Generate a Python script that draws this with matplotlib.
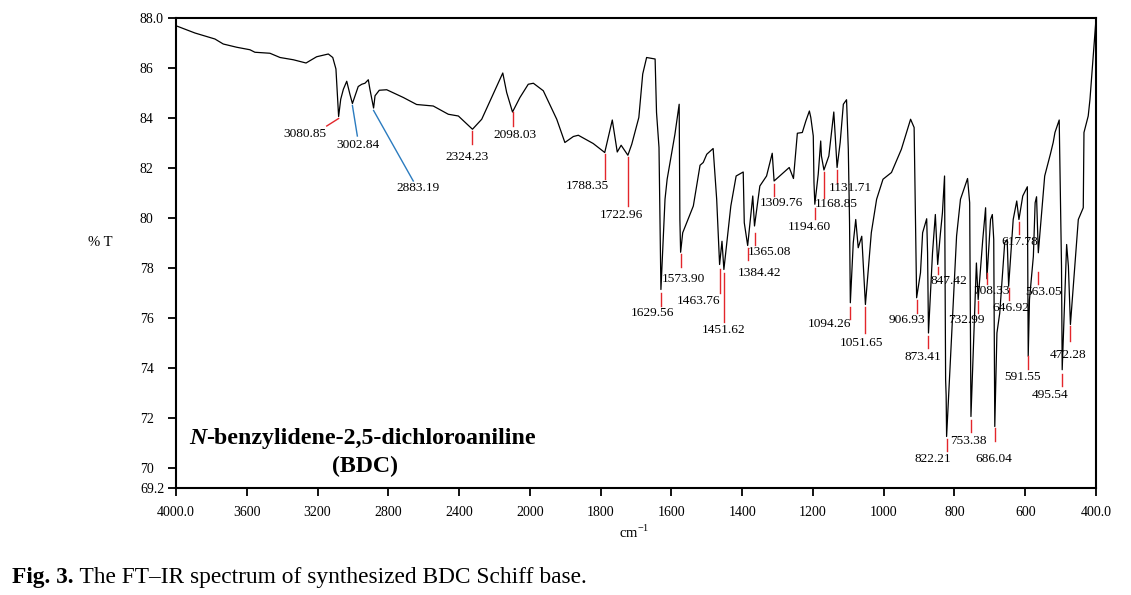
import numpy as np
import matplotlib
matplotlib.use('Agg')
import matplotlib.pyplot as plt

plt.rcParams['font.family'] = ['Liberation Serif', 'DejaVu Serif']
plt.rcParams['mathtext.fontset'] = 'custom'
plt.rcParams['mathtext.rm'] = 'Liberation Serif'

# spectrum (cm-1, %T)
wavenumber = [
    4000, 3893, 3780, 3733, 3657, 3582, 3554, 3469, 3412, 3337, 3265, 3205,
    3139, 3114, 3096, 3080.85, 3069, 3054, 3035, 3017, 3002.84, 2970, 2950,
    2932, 2913, 2904, 2883.19, 2875, 2851, 2809, 2715, 2640, 2546, 2461, 2404,
    2324.23, 2272, 2216, 2153, 2131, 2098.03, 2056, 2009, 1990, 1962, 1924,
    1901, 1877, 1863, 1821, 1788.35, 1767, 1753, 1742, 1722.96, 1712, 1692,
    1681, 1670, 1646, 1642, 1635, 1629.56, 1618, 1612, 1590, 1578, 1576,
    1573.90, 1568, 1538, 1519, 1510, 1500, 1482, 1472, 1463.76, 1457, 1451.62,
    1432, 1417, 1397, 1394, 1384.42, 1370, 1365.08, 1350, 1331, 1315, 1309.76,
    1267, 1255, 1244, 1230, 1220, 1210, 1206, 1199, 1197, 1194.60, 1185, 1178,
    1176, 1168.85, 1155, 1148, 1141, 1131.71, 1123, 1114, 1105, 1100, 1096.5,
    1094.26, 1086, 1079, 1072, 1062, 1051.65, 1035, 1020, 1002, 978, 950, 924,
    914, 906.93, 896, 890, 878.5, 876, 873.41, 862, 854, 847.42, 840, 834, 828,
    825, 823.5, 822.21, 794, 783, 763, 757, 753.38, 745, 738, 732.99, 720, 712,
    708.33, 698, 693, 689, 686.04, 680, 672, 658, 651, 646.92, 634, 624,
    617.78, 607, 594, 591.55, 588, 577, 572, 568, 563.05, 545, 529, 521, 516,
    504, 497.5, 495.54, 483, 478, 472.28, 450, 436, 434, 422, 417, 408.5, 400,
]
transmittance = [
    87.69, 87.40, 87.16, 86.96, 86.83, 86.73, 86.63, 86.59, 86.42, 86.33, 86.20, 86.45,
    86.56, 86.42, 85.96, 84.06, 84.75, 85.15, 85.47, 84.95, 84.58, 85.26, 85.35,
    85.39, 85.53, 85.15, 84.40, 84.89, 85.11, 85.13, 84.82, 84.54, 84.48, 84.15, 84.08,
    83.55, 83.95, 84.82, 85.80, 85.02, 84.24, 84.82, 85.35, 85.39, 85.09, 83.95,
    83.02, 83.26, 83.31, 82.98, 82.62, 83.92, 82.64, 82.91, 82.51, 82.95, 84.02,
    85.76, 86.42, 86.36, 84.22, 82.82, 77.14, 80.75, 81.55, 83.35, 84.55, 79.94,
    78.63, 79.41, 80.48, 82.11, 82.22, 82.55, 82.78, 80.75, 78.14, 79.07, 77.94,
    80.48, 81.68, 81.84, 79.81, 78.90, 80.88, 79.68, 81.28, 81.68, 82.59, 81.48,
    82.02, 81.58, 83.39, 83.42, 83.88, 84.28, 84.02, 83.28, 81.41, 80.55, 81.75, 83.08,
    82.48, 81.92, 82.48, 83.35, 84.24, 82.02, 83.02, 84.55, 84.73, 82.75, 79.81,
    76.61, 79.01, 79.94, 78.81, 79.27, 76.54, 79.41, 80.75, 81.55, 81.82, 82.75, 83.95,
    83.62, 76.81, 77.81, 79.41, 79.97, 78.61, 75.40, 78.61, 80.14, 78.14, 79.34, 80.21, 81.68,
    73.53, 72.90, 71.26, 79.28, 80.75, 81.58, 80.61, 72.06, 75.40, 78.20, 76.74, 79.14, 80.41,
    77.57, 79.94, 80.14, 79.14, 71.66, 75.40, 76.20, 79.01, 79.14, 77.27, 79.94, 80.68,
    79.94, 80.88, 81.25, 74.47, 76.74, 78.47, 80.61, 80.85, 78.61, 81.68, 82.55, 83.02, 83.42,
    83.92, 78.07, 73.93, 78.94, 78.07, 75.74, 79.94, 80.41, 83.42, 84.08, 84.75, 86.36, 87.96,
]

peak_labels = [
    "3080.85", "3002.84", "2883.19", "2324.23", "2098.03", "1788.35", "1722.96",
    "1629.56", "1573.90", "1463.76", "1451.62", "1384.42", "1365.08", "1309.76",
    "1194.60", "1168.85", "1131.71", "1094.26", "1051.65", "906.93", "873.41",
    "847.42", "822.21", "753.38", "732.99", "708.33", "686.04", "646.92",
    "617.78", "591.55", "563.05", "495.54", "472.28",
]

x_ticks = [4000, 3600, 3200, 2800, 2400, 2000, 1800, 1600, 1400, 1200, 1000, 800, 600, 400]
x_tick_labels = ["4000.0", "3600", "3200", "2800", "2400", "2000", "1800", "1600",
                 "1400", "1200", "1000", "800", "600", "400.0"]
y_ticks = [69.2, 70, 72, 74, 76, 78, 80, 82, 84, 86, 88]
y_tick_labels = ["69.2", "70", "72", "74", "76", "78", "80", "82", "84", "86", "88.0"]

# marker placement: line top/bottom (%T), text offset from line end (px), end wavenumber for slanted ones
marker_layout = {
    "3080.85": (83.98, 83.68, 0, 8, 3148),
    "3002.84": (84.50, 83.28, 1, 9, 2975),
    "2883.19": (84.30, 81.48, 5, 7, 2659),
    "2324.23": (83.48, 82.95, -5, 13, None),
    "2098.03": (84.22, 83.68, 2, 9, None),
    "1788.35": (82.55, 81.55, -17, 7, None),
    "1722.96": (82.42, 80.49, -6, 9, None),
    "1629.56": (77.01, 76.47, -8, 7, None),
    "1573.90": (78.54, 78.05, 3, 12, None),
    "1463.76": (77.97, 77.01, -21, 8, None),
    "1451.62": (77.78, 75.83, 0, 8, None),
    "1384.42": (78.81, 78.31, 12, 13, None),
    "1365.08": (79.41, 78.90, 15, 7, None),
    "1309.76": (81.35, 80.88, 7, 7, None),
    "1194.60": (80.41, 79.94, -5, 7, None),
    "1168.85": (81.82, 80.79, 12, 6, None),
    "1131.71": (81.92, 81.39, 13, 5, None),
    "1094.26": (76.44, 75.96, -21, 5, None),
    "1051.65": (76.44, 75.40, -4, 10, None),
    "906.93": (76.70, 76.20, -10, 7, None),
    "873.41": (75.29, 74.80, -6, 9, None),
    "847.42": (78.03, 77.74, 11, 7, None),
    "822.21": (71.15, 70.66, -14, 8, None),
    "753.38": (71.93, 71.46, -3, 9, None),
    "732.99": (76.68, 76.20, -12, 7, None),
    "708.33": (77.81, 77.34, 4, 7, None),
    "686.04": (71.60, 71.06, -1, 17, None),
    "646.92": (77.21, 76.70, 2, 8, None),
    "617.78": (79.84, 79.37, 1, 8, None),
    "591.55": (74.47, 73.96, -6, 8, None),
    "563.05": (77.83, 77.34, 5, 8, None),
    "495.54": (73.77, 73.26, -12, 9, None),
    "472.28": (75.67, 75.07, -2, 14, None),
}
blue_markers = {"3002.84", "2883.19"}


def compress_high(x):
    """4000-2000 cm-1 drawn at half scale, like the instrument printout."""
    x = np.asarray(x, dtype=float)
    return np.where(x > 2000, 2000 + (x - 2000) / 2.0, x)


def expand_high(t):
    t = np.asarray(t, dtype=float)
    return np.where(t > 2000, 2000 + (t - 2000) * 2.0, t)


W, H = 1131, 595
fig = plt.figure(figsize=(W / 100, H / 100), dpi=100)
ax = fig.add_axes([176 / W, 1 - 488 / H, (1096 - 176) / W, (488 - 18) / H])
ax.set_xscale('function', functions=(compress_high, expand_high))
ax.set_xlim(4000, 400)
ax.set_ylim(69.2, 88.0)

ax.plot(wavenumber, transmittance, color='black', lw=0.9)

px = 0.72  # points per pixel at 100 dpi
for lab in peak_labels:
    top, bot, dx, dy, end_wn = marker_layout[lab]
    wn = float(lab)
    color = '#2b7bbf' if lab in blue_markers else '#e3262b'
    x_end = wn if end_wn is None else end_wn
    ax.plot([wn, x_end], [top, bot], color=color, lw=1.0)
    ha = 'right' if lab == "3080.85" else 'center'
    ax.annotate(lab, xy=(x_end, bot), xytext=(dx * px, -dy * px),
                textcoords='offset points', ha=ha, va='center', fontsize=9.6)

ax.set_xticks(x_ticks)
ax.set_xticklabels(x_tick_labels)
ax.set_yticks(y_ticks)
ax.set_yticklabels(y_tick_labels)
ax.xaxis.set_minor_locator(matplotlib.ticker.NullLocator())
ax.tick_params(axis='x', direction='out', length=6, width=1.3, pad=7, labelsize=10)
ax.tick_params(axis='y', direction='out', length=6, width=1.3, pad=20, labelsize=10)
for tl in ax.get_yticklabels():
    tl.set_horizontalalignment('left')
for s in ax.spines.values():
    s.set_linewidth(1.5)

fig.text(100 / W, 1 - 242 / H, '% T', ha='center', va='center', fontsize=10.5)
fig.text(634 / W, 1 - 532 / H, r'cm$^{\mathregular{-1}}$', ha='center', va='center', fontsize=10.5)

t1 = fig.text(189 / W, 1 - 444 / H, 'N', style='italic', weight='bold',
              fontsize=17.2, va='baseline', ha='left')
ax.annotate('-benzylidene-2,5-dichloroaniline', xy=(1, 0), xycoords=t1,
            va='bottom', ha='left', weight='bold', fontsize=17.2)
fig.text(365 / W, 1 - 466 / H, '(BDC)', weight='bold', fontsize=17.2, ha='center', va='center')

c1 = fig.text(12 / W, 1 - 583 / H, 'Fig. 3.', weight='bold', fontsize=16.8, va='baseline')
ax.annotate(' The FT\u2013IR spectrum of synthesized BDC Schiff base.', xy=(1, 0),
            xycoords=c1, va='bottom', ha='left', fontsize=16.8)

fig.savefig('out.png', dpi=100)
